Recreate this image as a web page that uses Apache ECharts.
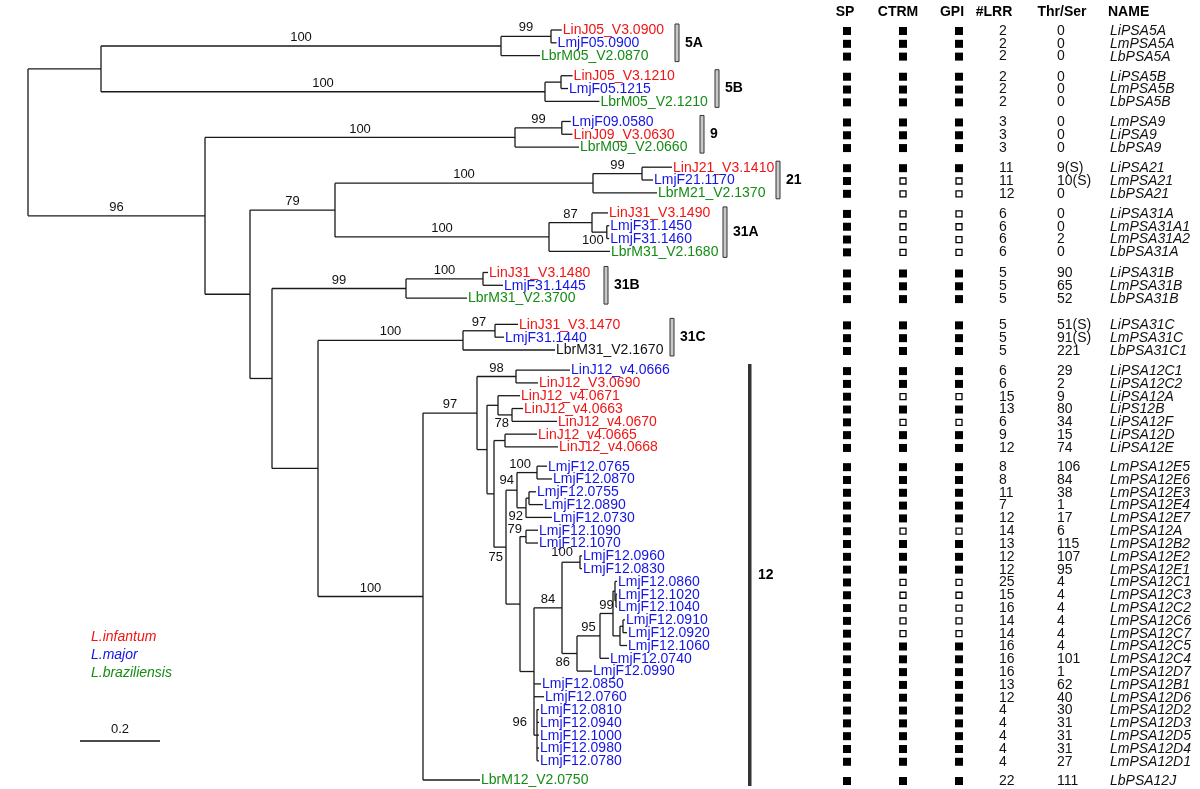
<!DOCTYPE html>
<html><head><meta charset="utf-8">
<script src="https://cdn.jsdelivr.net/npm/echarts@6/dist/echarts.min.js"></script>
<style>html,body{margin:0;padding:0;background:#fff}#c{width:1200px;height:789px}</style>
</head><body><div id="c"></div>
<script>
// ---------------- DATA ----------------
// Tree (Newick): branch lengths in substitutions/site, internal labels = bootstrap
const treeNewick = `(
 (
  ((LinJ05_V3.0900:0.027,LmjF05.0900:0.014)99:0.125,LbrM05_V2.0870:0.0975)100:1.0,
  ((LinJ05_V3.1210:0.029,LmjF05.1215:0.0175):0.04,LbrM05_V2.1210:0.136)100:1.11
 ):0.1825,
 (
  ((LmjF09.0580:0.0225,LinJ09_V3.0630:0.0265)99:0.117,LbrM09_V2.0660:0.16)100:0.775,
  (
   (
    ((LinJ21_V3.1410:0.075,LmjF21.1170:0.0275)99:0.1225,LbrM21_V2.1370:0.16)100:0.645,
    ((LinJ31_V3.1490:0.04,(LmjF31.1450:0.006,LmjF31.1460:0.006)100:0.037)87:0.1075,LbrM31_V2.1680:0.1525)100:0.535
   )79:0.2125,
   (
    ((LinJ31_V3.1480:0.0125,LmjF31.1445:0.05)100:0.1925,LbrM31_V2.3700:0.1525)99:0.335,
    (
     ((LinJ31_V3.1470:0.0575,LmjF31.1440:0.0225)97:0.08,LbrM31_V2.1670:0.23)100:0.3625,
     (
      (
       (LinJ12_v4.0666:0.135,LinJ12_V3.0690:0.055)98:0.0975,
       (
        (LinJ12_v4.0671:0.055,(LinJ12_v4.0663:0.0275,LinJ12_v4.0670:0.1125)78:0.035):0.0275,
        (
         (LinJ12_v4.0665:0.08,LinJ12_v4.0668:0.1325):0.0275,
         (
          ((LmjF12.0765:0.025,LmjF12.0870:0.0375)100:0.05,((LmjF12.0755:0.0175,LmjF12.0890:0.035):0.0075,LmjF12.0730:0.065)92:0.0225)94:0.0275,
          (
           (LmjF12.1090:0.03,LmjF12.1070:0.03)79:0.015,
           (
            (
             (LmjF12.0960:0.005,LmjF12.0830:0.005)100:0.045,
             (
              (
               ((LmjF12.0860:0.005,(LmjF12.1020:0.0025,LmjF12.1040:0.0025):0.0025):0.005,((LmjF12.0910:0.005,LmjF12.0920:0.01):0.0075,LmjF12.1060:0.0175):0.0175)99:0.0325,
               LmjF12.0740:0.0225
              )95:0.0575,
              LmjF12.0990:0.0375
             )86:0.0375
            )84:0.07,
            LmjF12.0850:0.0175,
            LmjF12.0760:0.025,
            (LmjF12.0810:0.005,LmjF12.0940:0.005,LmjF12.1000:0.005,LmjF12.0980:0.005,LmjF12.0780:0.005)96:0.0075
           ):0.035
          ):0.035
         )75:0.03
        ):0.0175
       ):0.025
      )97:0.135,
      LbrM12_V2.0750:0.1425
     )100:0.2625
    ):0.115
   ):0.055
  ):0.1125
 )96:0.4425
);`;

// Table (rows in leaf order)
const leafNames = ['LinJ05_V3.0900','LmjF05.0900','LbrM05_V2.0870','LinJ05_V3.1210','LmjF05.1215','LbrM05_V2.1210',
 'LmjF09.0580','LinJ09_V3.0630','LbrM09_V2.0660','LinJ21_V3.1410','LmjF21.1170','LbrM21_V2.1370',
 'LinJ31_V3.1490','LmjF31.1450','LmjF31.1460','LbrM31_V2.1680','LinJ31_V3.1480','LmjF31.1445','LbrM31_V2.3700',
 'LinJ31_V3.1470','LmjF31.1440','LbrM31_V2.1670','LinJ12_v4.0666','LinJ12_V3.0690','LinJ12_v4.0671','LinJ12_v4.0663',
 'LinJ12_v4.0670','LinJ12_v4.0665','LinJ12_v4.0668','LmjF12.0765','LmjF12.0870','LmjF12.0755','LmjF12.0890','LmjF12.0730',
 'LmjF12.1090','LmjF12.1070','LmjF12.0960','LmjF12.0830','LmjF12.0860','LmjF12.1020','LmjF12.1040','LmjF12.0910',
 'LmjF12.0920','LmjF12.1060','LmjF12.0740','LmjF12.0990','LmjF12.0850','LmjF12.0760','LmjF12.0810','LmjF12.0940',
 'LmjF12.1000','LmjF12.0980','LmjF12.0780','LbrM12_V2.0750'];
const spFlag   = [1,1,1,1,1,1,1,1,1,1,1,1,1,1,1,1,1,1,1,1,1,1,1,1,1,1,1,1,1,1,1,1,1,1,1,1,1,1,1,1,1,1,1,1,1,1,1,1,1,1,1,1,1,1];
const ctrmFlag = [1,1,1,1,1,1,1,1,1,1,0,0,0,0,0,0,1,1,1,1,1,1,1,1,0,1,0,1,1,1,1,1,1,1,0,1,1,1,0,0,0,0,0,1,1,1,1,1,1,1,1,1,1,1];
const gpiFlag  = [1,1,1,1,1,1,1,1,1,1,0,0,0,0,0,0,1,1,1,1,1,1,1,1,0,1,0,1,1,1,1,1,1,1,0,1,1,1,0,0,0,0,0,1,1,1,1,1,1,1,1,1,1,1];
const lrrCount = [2,2,2,2,2,2,3,3,3,11,11,12,6,6,6,6,5,5,5,5,5,5,6,6,15,13,6,9,12,8,8,11,7,12,14,13,12,12,25,15,16,14,14,16,16,16,13,12,4,4,4,4,4,22];
const thrSer   = ['0','0','0','0','0','0','0','0','0','9(S)','10(S)','0','0','0','2','0','90','65','52','51(S)','91(S)','221',
 '29','2','9','80','34','15','74','106','84','38','1','17','6','115','107','95','4','4','4','4','4','4','101','1','62','40',
 '30','31','31','31','27','111'];
const proteinName = ['LiPSA5A','LmPSA5A','LbPSA5A','LiPSA5B','LmPSA5B','LbPSA5B','LmPSA9','LiPSA9','LbPSA9',
 'LiPSA21','LmPSA21','LbPSA21','LiPSA31A','LmPSA31A1','LmPSA31A2','LbPSA31A','LiPSA31B','LmPSA31B','LbPSA31B',
 'LiPSA31C','LmPSA31C','LbPSA31C1','LiPSA12C1','LiPSA12C2','LiPSA12A','LiPS12B','LiPSA12F','LiPSA12D','LiPSA12E',
 'LmPSA12E5','LmPSA12E6','LmPSA12E3','LmPSA12E4','LmPSA12E7','LmPSA12A','LmPSA12B2','LmPSA12E2','LmPSA12E1',
 'LmPSA12C1','LmPSA12C3','LmPSA12C2','LmPSA12C6','LmPSA12C7','LmPSA12C5','LmPSA12C4','LmPSA12D7','LmPSA12B1',
 'LmPSA12D6','LmPSA12D2','LmPSA12D3','LmPSA12D5','LmPSA12D4','LmPSA12D1','LbPSA12J'];
const columnHeaders = ['SP','CTRM','GPI','#LRR','Thr/Ser','NAME'];
const groupNames = ['5A','5B','9','21','31A','31B','31C','12'];
const groupLeafCount = [3,3,3,3,4,3,3,32];
const legendNames = ['L.infantum','L.major','L.braziliensis'];
const scaleBarValue = 0.2;

// ---------------- LAYOUT / STYLE ----------------
const rowBlocks = [3,3,3,3,4,3,3,7,24,1];
const gapAfter  = [0.57,0.57,0.57,0.57,0.65,1.05,0.57,0.5,0.5,0];
const groupBarX = [1.6175,1.7175,1.68,1.87,1.7375,1.44,1.605,1.80];
const groupBarSolid = [false,false,false,false,false,false,false,true];
const colHeaderX = [845,898,952,994,1062,1108];
const colHeaderAlign = ['center','center','center','center','center','left'];
const colX = {sp:847, ctrm:903, gpi:959, lrr:999, thr:1057, name:1110};
const RED='#f01414', BLUE='#1414e6', GREEN='#148c14', BLACK='#111';
const speciesColor = {LinJ:RED, LmjF:BLUE, LbrM:GREEN};
const legendColor = [RED,BLUE,GREEN];
const colorOverride = {'LinJ12_v4.0666':BLUE,'LbrM31_V2.1670':BLACK};
const bootPlace = {
 'LmjF31.1450/LmjF31.1460':[-3,2,'lb'], 'LinJ12_v4.0663/LinJ12_v4.0670':[-3,2,'lb'],
 'LmjF12.0765/LmjF12.0780':[-3,4,'lb'], 'LmjF12.0755/LmjF12.0730':[-3,2,'lb'],
 'LmjF12.0860/LmjF12.0990':[-7,2,'lb'], 'LmjF12.0810/LmjF12.0780':[-10,-6,'la'],
 'LmjF12.1090/LmjF12.1070':[-4,-1,'la'], 'LmjF12.0765/LmjF12.0730':[-3,-3,'la'],
 'LmjF12.0765/LmjF12.0870':[-6,-2,'la'], 'LmjF12.0960/LmjF12.0830':[-7,-3,'la']
};
const FONT = '"Liberation Sans", Arial, Helvetica, sans-serif';

// ---------------- BUILD TREE ----------------
function parseNewick(str){
  const s = str.replace(/\s+/g,''); let i=0;
  function node(){
    const n={children:[],name:'',len:0,boot:null};
    if(s[i]==='('){ i++; n.children.push(node()); while(s[i]===','){ i++; n.children.push(node()); } i++; }
    let lab=''; while(i<s.length && !':,);'.includes(s[i])) lab+=s[i++];
    if(s[i]===':'){ i++; let num=''; while(i<s.length && !',);'.includes(s[i])) num+=s[i++]; n.len=parseFloat(num); }
    if(n.children.length) n.boot = lab||null; else n.name = lab;
    return n;
  }
  return node();
}
const root = parseNewick(treeNewick);
const rowPos = []; { let r=0; rowBlocks.forEach((n,b)=>{ for(let k=0;k<n;k++){ rowPos.push(r); r+=1; } r+=gapAfter[b]; }); }
const nodes=[]; let leafCounter=0;
function layout(n,parent){
  n.parent=parent; n.x=(parent?parent.x:0)+n.len; nodes.push(n);
  if(!n.children.length){ n.row=leafCounter; n.y=rowPos[leafCounter++]; n.first=n.last=n.name; }
  else { n.children.forEach(c=>layout(c,n)); n.y=(n.children[0].y+n.children[n.children.length-1].y)/2;
         n.first=n.children[0].first; n.last=n.children[n.children.length-1].last; }
}
layout(root,null);
const maxRow = rowPos[rowPos.length-1];

function renderTree(params, api){
  const n = nodes[api.value(2)];
  const p = api.coord([n.x,n.y]);
  const ls = {stroke:'#1a1a1a', lineWidth:1.3};
  const g = [];
  let px = p[0];
  if(n.parent){ px = api.coord([n.parent.x,n.y])[0];
    g.push({type:'line',shape:{x1:px,y1:p[1],x2:p[0],y2:p[1]},style:ls}); }
  if(n.children.length){
    const t=api.coord([n.x,n.children[0].y]), b=api.coord([n.x,n.children[n.children.length-1].y]);
    g.push({type:'line',shape:{x1:p[0],y1:t[1],x2:p[0],y2:b[1]},style:ls});
    if(n.boot){
      const pl = bootPlace[n.first+'/'+n.last];
      let st;
      if(!pl) st={x:(px+p[0])/2,y:p[1]-2,align:'center',verticalAlign:'bottom'};
      else st={x:p[0]+pl[0],y:p[1]+pl[1],align:'right',verticalAlign:pl[2]==='lb'?'top':'bottom'};
      g.push({type:'text',style:Object.assign(st,{text:n.boot,fill:'#111',font:'13px '+FONT})});
    }
  } else {
    const col = colorOverride[n.name] || speciesColor[n.name.slice(0,4)] || BLACK;
    g.push({type:'text',style:{x:p[0]+1,y:p[1]+0.5,text:n.name,fill:col,font:'14px '+FONT,align:'left',verticalAlign:'middle'}});
  }
  return {type:'group',children:g};
}

function renderTable(params, api){
  const i = api.value(2);
  const y = api.coord([0,rowPos[i]])[1]+1;
  const g=[];
  const sq=(cx,f)=> f ? {type:'rect',shape:{x:cx-4,y:y-4,width:8,height:8},style:{fill:'#000'}}
                      : {type:'rect',shape:{x:cx-3,y:y-3,width:6,height:6},style:{fill:'#fff',stroke:'#000',lineWidth:1.3}};
  g.push(sq(colX.sp,spFlag[i]), sq(colX.ctrm,ctrmFlag[i]), sq(colX.gpi,gpiFlag[i]));
  const tf='14px '+FONT;
  g.push({type:'text',style:{x:colX.lrr,y:y,text:String(lrrCount[i]),fill:'#111',font:tf,align:'left',verticalAlign:'middle'}});
  g.push({type:'text',style:{x:colX.thr,y:y,text:thrSer[i],fill:'#111',font:tf,align:'left',verticalAlign:'middle'}});
  g.push({type:'text',style:{x:colX.name,y:y,text:proteinName[i],fill:'#111',font:'italic '+tf,align:'left',verticalAlign:'middle'}});
  return {type:'group',children:g};
}

const groupStart=[]; { let s=0; groupLeafCount.forEach(c=>{ groupStart.push(s); s+=c; }); }
function renderGroups(params, api){
  const k = api.value(2);
  const a = api.coord([groupBarX[k], rowPos[groupStart[k]]]);
  const b = api.coord([groupBarX[k], rowPos[groupStart[k]+groupLeafCount[k]-1]]);
  const y1=a[1]-6, y2=b[1]+6;
  const bar = groupBarSolid[k]
    ? {type:'rect',shape:{x:a[0],y:y1,width:3.5,height:y2-y1},style:{fill:'#333'}}
    : {type:'rect',shape:{x:a[0],y:y1,width:4,height:y2-y1},style:{fill:'#c8c8c8',stroke:'#333',lineWidth:1}};
  return {type:'group',children:[bar,
    {type:'text',style:{x:a[0]+10,y:(y1+y2)/2,text:groupNames[k],fill:'#000',font:'bold 14px '+FONT,align:'left',verticalAlign:'middle'}}]};
}

function renderScale(params, api){
  const x0 = api.value(0), len = api.value(1);
  const a = api.coord([x0,0]), b = api.coord([x0+len,0]);
  const y = 741;
  return {type:'group',children:[
    {type:'line',shape:{x1:a[0],y1:y,x2:b[0],y2:y},style:{stroke:'#111',lineWidth:1.3}},
    {type:'text',style:{x:(a[0]+b[0])/2,y:y-5,text:String(scaleBarValue),fill:'#111',font:'13px '+FONT,align:'center',verticalAlign:'bottom'}}]};
}

const graphics = [];
columnHeaders.forEach((h,i)=>graphics.push({type:'text',left:null,x:colHeaderX[i],y:12,
  style:{text:h,fill:'#000',font:'bold 14px '+FONT,align:colHeaderAlign[i],verticalAlign:'middle'}}));
legendNames.forEach((t,i)=>graphics.push({type:'text',x:91,y:637+18*i,
  style:{text:t,fill:legendColor[i],font:'italic 14px '+FONT,align:'left',verticalAlign:'middle'}}));

const chart = echarts.init(document.getElementById('c'),null,{renderer:'canvas'});
chart.setOption({
  animation:false,
  backgroundColor:'#fff',
  grid:{left:28,top:30,width:800,height:750},
  xAxis:{type:'value',min:0,max:2,show:false},
  yAxis:{type:'value',min:0,max:maxRow,inverse:true,show:false},
  graphic:graphics,
  series:[
    {type:'custom',renderItem:renderTree,clip:false,encode:{x:0,y:1},
     data:nodes.map((n,i)=>[n.x,n.y,i])},
    {type:'custom',renderItem:renderTable,clip:false,encode:{x:0,y:1},
     data:leafNames.map((nm,i)=>[0,rowPos[i],i])},
    {type:'custom',renderItem:renderGroups,clip:false,encode:{x:0,y:1},
     data:groupNames.map((g,k)=>[groupBarX[k],rowPos[groupStart[k]],k])},
    {type:'custom',renderItem:renderScale,clip:false,encode:{x:0},
     data:[[0.13,scaleBarValue]]}
  ]
});
</script></body></html>
